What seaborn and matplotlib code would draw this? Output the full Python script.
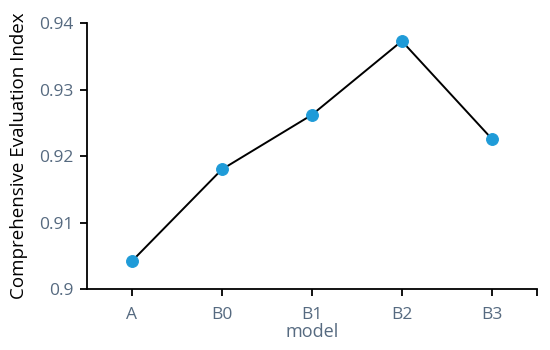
import numpy as np
import pandas as pd
import matplotlib
matplotlib.use('Agg')
import matplotlib.pyplot as plt
import seaborn as sns

models = ['A', 'B0', 'B1', 'B2', 'B3']
scores = [0.9042, 0.9180, 0.9262, 0.9373, 0.9226]

df = pd.DataFrame({'model': models, 'score': scores})

sns.set_style('ticks')
plt.rcParams['font.family'] = ['Open Sans', 'DejaVu Sans']

fig = plt.figure(figsize=(5.5, 3.5), dpi=100)
ax = fig.add_axes([0.158, 0.174, 0.818, 0.76])

sns.lineplot(data=df, x='model', y='score', ax=ax, color='black', linewidth=1.4,
             marker='o', markersize=8.5, markerfacecolor='#1f9bd8',
             markeredgecolor='#1f9bd8', sort=False)

ax.set_xlim(-0.5, 4.5)
ax.set_ylim(0.9, 0.94)
ax.set_yticks([0.9, 0.91, 0.92, 0.93, 0.94])
ax.set_yticklabels(['0.9', '0.91', '0.92', '0.93', '0.94'])
ax.set_xticks([4.5], minor=True)
ax.tick_params(axis='x', which='minor', length=5, width=1.3, direction='out', color='black')

for side in ['top', 'right']:
    ax.spines[side].set_visible(False)
for side in ['left', 'bottom']:
    ax.spines[side].set_color('black')
    ax.spines[side].set_linewidth(1.3)

ax.tick_params(axis='both', which='major', length=5, width=1.3, color='black',
               labelsize=12.5, labelcolor='#566a80', direction='out')
ax.tick_params(axis='x', which='major', pad=8)
ax.tick_params(axis='y', which='major', pad=5)
ax.set_xlabel('model', fontsize=13, color='#566a80', labelpad=0)
ax.set_ylabel('Comprehensive Evaluation Index', fontsize=13.5, color='black', labelpad=8)

fig.savefig('out.png', dpi=100)
